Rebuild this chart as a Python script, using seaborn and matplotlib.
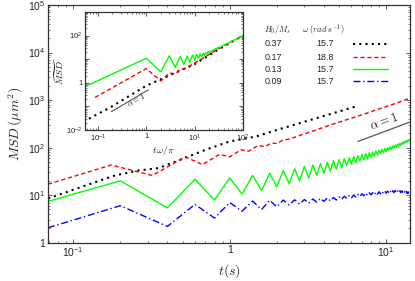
import numpy as np
import matplotlib
matplotlib.use("Agg")
import matplotlib.pyplot as plt
import seaborn as sns
from matplotlib.lines import Line2D
from matplotlib.ticker import FixedLocator, LogLocator, NullFormatter

# ---- main panel data: MSD (um^2) vs t (s) ----
black_t = [0.069, 0.12, 0.185, 0.26, 0.35, 0.5, 0.7, 1.0, 1.46, 2.0, 3.0, 4.5, 6.4]
black_msd = [8.5, 16, 26, 33, 37, 58, 90, 135, 170, 235, 350, 520, 735]

red_t = [0.069, 0.175, 0.32, 0.52, 0.67, 0.86, 1.0, 1.18, 1.32, 1.52, 1.68,
         1.85, 2.0, 2.2, 2.37, 2.7, 3.0, 3.5, 4.4, 5.5, 7.0, 9.0, 11.5, 14.2]
red_msd = [17, 43, 26, 64, 44, 72, 64, 90, 84, 111, 105,
           125, 122, 145, 150, 172, 195, 230, 300, 380, 490, 650, 850, 1100]

# oscillating curves (omega = 15.7): peaks at t = 0.2, 0.6, ..., troughs at 0.4, 0.8, ...
peak_t = np.arange(0.2, 14.3, 0.4)
trough_t = np.arange(0.4, 14.1, 0.4)

green_start = 7.4
green_peaks = [20, 21.5, 23, 26, 29, 33, 36, 40, 43, 46, 49, 53, 56, 59, 62, 65, 68, 72,
               75, 78, 81, 85, 88, 92, 96, 100, 104, 108, 113, 118, 123, 128, 134, 140, 146, 152]
green_troughs = [5.4, 7.9, 10.5, 12.5, 15, 17.5, 20, 23, 26, 29, 32, 35, 38, 42, 45, 48, 52,
                 55, 58, 62, 66, 70, 74, 79, 83, 88, 92, 97, 102, 107, 112, 118, 124, 130, 136]

blue_start = 2.06
blue_peaks = [6.0, 6.4, 7.0, 7.5, 7.8, 7.9, 8.0, 8.1, 8.3, 8.5, 8.7, 8.9, 9.2, 9.5, 9.8, 10.1,
              10.4, 10.7, 11.0, 11.2, 11.4, 11.6, 11.8, 12.0, 12.1, 12.2, 12.3, 12.4, 12.5,
              12.5, 12.5, 12.4, 12.3, 12.1, 11.8, 11.5]
blue_troughs = [2.2, 3.3, 4.6, 5.0, 5.7, 6.2, 6.5, 6.8, 7.1, 7.4, 7.6, 7.9, 8.2, 8.5, 8.8,
                9.1, 9.4, 9.7, 9.9, 10.1, 10.3, 10.5, 10.7, 10.9, 11.0, 11.1, 11.2, 11.3,
                11.4, 11.4, 11.3, 11.2, 11.0, 10.8, 10.5]

alpha_main_t = [6.6, 14.2]
alpha_main_msd = [135, 345]

# ---- inset data: normalized MSD vs t*omega/pi ----
in_black_x = [0.065, 0.177, 1.0, 10, 30, 100]
in_black_y = [0.03, 0.089, 0.75, 6.2, 25, 100]

in_red_x = [0.087, 1, 2, 3, 4, 5, 6, 8, 10, 20, 40, 100]
in_red_y = [0.24, 4, 1.2, 2.6, 2.4, 3.8, 3.9, 5.3, 6.8, 16, 37, 100]

in_green_x = [0.058, 1, 2, 3, 4, 5, 6, 7, 8, 9, 10, 11, 12, 13, 14, 15, 16, 17, 18, 19, 20,
              21, 22, 23, 24, 25, 26, 27, 28, 29, 30, 31, 32, 33, 40, 60, 80, 100]
in_green_y = [0.74, 11, 2.9, 14, 4.5, 13, 6, 13.5, 7.5, 15, 9, 16, 11, 17, 12.5, 18, 14.5,
              19, 16.5, 21, 18, 22, 20, 24, 22.5, 26, 25, 28, 27, 30, 29, 32, 31, 32,
              39, 59, 79, 100]

alpha_in_x = [0.19, 1.1]
alpha_in_y = [0.06, 0.5]

legend_h = ["0.37", "0.17", "0.13", "0.09"]
legend_w = ["15.7", "18.8", "15.7", "15.7"]
colors = ["black", "#ff0000", "#00ff00", "#0000ff"]
styles = [(0, (1, 2)), (0, (3, 2)), "-", (0, (5, 2, 1, 2))]
widths = [1.5, 1.0, 1.0, 1.0]


def zigzag(t0, v0, pt, pv, tt, tv):
    ts, vs = [t0], [v0]
    for i in range(len(pt)):
        ts.append(pt[i]); vs.append(pv[i])
        if i < len(tt):
            ts.append(tt[i]); vs.append(tv[i])
    return ts, vs


def pow_label(v):
    e = int(round(np.log10(v)))
    if e == 0:
        return "1"
    return r"$\mathdefault{10^{%d}}$" % e


def style_log_axis(ax, labsize):
    ax.tick_params(which="both", direction="in", top=True, right=True,
                   labelsize=labsize, color="#444444", pad=2)
    ax.tick_params(which="major", length=3, width=0.6)
    ax.tick_params(which="minor", length=1.6, width=0.5)
    for sp in ax.spines.values():
        sp.set_linewidth(0.9)
        sp.set_color("#333333")


def fx(px):
    return px / 415


def fy(py):
    return 1 - py / 281


sns.set_style("ticks")
plt.rcParams["font.family"] = ["Liberation Sans", "DejaVu Sans"]
plt.rcParams["mathtext.fontset"] = "cm"

fig = plt.figure(figsize=(4.15, 2.81), dpi=100)
ax = fig.add_axes([48 / 415, 1 - 242.7 / 281, 362 / 415, 237.7 / 281])

gt, gv = zigzag(0.069, green_start, peak_t, green_peaks, trough_t, green_troughs)
bt, bv = zigzag(0.069, blue_start, peak_t, blue_peaks, trough_t, blue_troughs)

series = [(black_t, black_msd), (red_t, red_msd), (gt, gv), (bt, bv)]
for (xs, ys), c, ls, lw in zip(series, colors, styles, widths):
    sns.lineplot(x=xs, y=ys, ax=ax, color=c, linestyle=ls, linewidth=lw,
                 sort=False, estimator=None)
sns.lineplot(x=alpha_main_t, y=alpha_main_msd, ax=ax, color="#555555", linewidth=0.9)

ax.set_xscale("log")
ax.set_yscale("log")
ax.set_xlim(0.069, 14.2)
ax.set_ylim(1, 1e5)
ax.xaxis.set_major_locator(FixedLocator([0.1, 1, 10]))
ax.set_xticklabels([pow_label(v) for v in [0.1, 1, 10]])
ax.yaxis.set_major_locator(FixedLocator([1, 10, 100, 1e3, 1e4, 1e5]))
ax.set_yticklabels([pow_label(v) for v in [1, 10, 100, 1e3, 1e4, 1e5]])
ax.xaxis.set_minor_locator(LogLocator(base=10, subs=np.arange(2, 10), numticks=20))
ax.yaxis.set_minor_locator(LogLocator(base=10, subs=np.arange(2, 10), numticks=20))
ax.xaxis.set_minor_formatter(NullFormatter())
ax.yaxis.set_minor_formatter(NullFormatter())
style_log_axis(ax, 7.5)
ax.set_xlabel(r"$t(s)$", fontsize=10, labelpad=2)
ax.set_ylabel(r"$MSD\,(\mu m^2)$", fontsize=10, labelpad=2)
fig.text(fx(384), fy(122), r"$\alpha = 1$", fontsize=9, rotation=20,
         ha="center", va="center")

# legend drawn as a small table on the figure
fig.text(fx(264), fy(30), r"$H_0/M_s$", fontsize=6, va="center")
fig.text(fx(302), fy(30), r"$\omega\ (rad\ s^{-1})$", fontsize=6, va="center")
rows_y = [44, 57, 69, 81]
for h, w, c, ls, lw, yy in zip(legend_h, legend_w, colors, styles, widths, rows_y):
    fig.text(fx(265), fy(yy), h, fontsize=6.5, va="center")
    fig.text(fx(316), fy(yy), w, fontsize=6.5, va="center")
    fig.add_artist(Line2D([fx(353), fx(388)], [fy(yy), fy(yy)], color=c,
                          linestyle=ls, linewidth=lw, transform=fig.transFigure))

# inset
axi = fig.add_axes([85 / 415, 1 - 130 / 281, 158 / 415, 118 / 281])
in_series = [(in_black_x, in_black_y), (in_red_x, in_red_y), (in_green_x, in_green_y)]
for (xs, ys), c, ls, lw in zip(in_series, colors[:3], styles[:3], widths[:3]):
    sns.lineplot(x=xs, y=ys, ax=axi, color=c, linestyle=ls, linewidth=lw,
                 sort=False, estimator=None)
sns.lineplot(x=alpha_in_x, y=alpha_in_y, ax=axi, color="#555555", linewidth=0.8)
axi.set_xscale("log")
axi.set_yscale("log")
axi.set_xlim(0.054, 100)
axi.set_ylim(1e-2, 1e3)
axi.xaxis.set_major_locator(FixedLocator([0.1, 1, 10, 100]))
axi.set_xticklabels([pow_label(v) for v in [0.1, 1, 10, 100]])
axi.yaxis.set_major_locator(FixedLocator([1e-2, 1e-1, 1, 10, 100, 1e3]))
axi.set_yticklabels([pow_label(v) if i % 2 == 0 else "" for i, v in
                     enumerate([1e-2, 1e-1, 1, 10, 100, 1e3])])
axi.xaxis.set_minor_locator(LogLocator(base=10, subs=np.arange(2, 10), numticks=20))
axi.xaxis.set_minor_formatter(NullFormatter())
axi.yaxis.set_minor_formatter(NullFormatter())
style_log_axis(axi, 5.5)
axi.set_xlabel(r"$t\,\omega/\pi$", fontsize=7, labelpad=0)
axi.set_ylabel(r"$\widetilde{MSD}$", fontsize=7, labelpad=0)
fig.text(fx(136), fy(100), r"$\alpha = 1$", fontsize=6, rotation=30,
         ha="center", va="center")

fig.savefig("out.png", dpi=100)
